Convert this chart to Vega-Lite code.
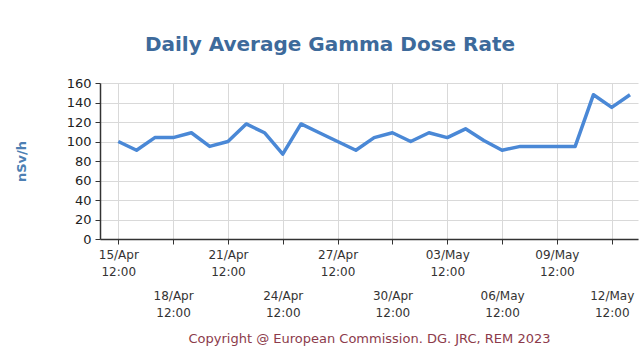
{
  "$schema": "https://vega.github.io/schema/vega-lite/v6.json",
  "width": 538,
  "height": 156,
  "autosize": "none",
  "padding": {"left": 100, "top": 83, "right": 2, "bottom": 116},
  "background": "white",
  "config": {
    "font": "DejaVu Sans",
    "view": {"stroke": null}
  },
  "title": {
    "text": "Daily Average Gamma Dose Rate",
    "fontSize": 20,
    "fontWeight": "bold",
    "color": "#3d6a9b",
    "anchor": "middle",
    "dx": -39,
    "offset": 22
  },
  "data": {
    "values": [
      {"date": "2023-04-15T12:00:00Z", "rate": 100},
      {"date": "2023-04-16T12:00:00Z", "rate": 91},
      {"date": "2023-04-17T12:00:00Z", "rate": 104},
      {"date": "2023-04-18T12:00:00Z", "rate": 104},
      {"date": "2023-04-19T12:00:00Z", "rate": 109},
      {"date": "2023-04-20T12:00:00Z", "rate": 95},
      {"date": "2023-04-21T12:00:00Z", "rate": 100},
      {"date": "2023-04-22T12:00:00Z", "rate": 118},
      {"date": "2023-04-23T12:00:00Z", "rate": 109},
      {"date": "2023-04-24T12:00:00Z", "rate": 87},
      {"date": "2023-04-25T12:00:00Z", "rate": 118},
      {"date": "2023-04-26T12:00:00Z", "rate": 109},
      {"date": "2023-04-27T12:00:00Z", "rate": 100},
      {"date": "2023-04-28T12:00:00Z", "rate": 91},
      {"date": "2023-04-29T12:00:00Z", "rate": 104},
      {"date": "2023-04-30T12:00:00Z", "rate": 109},
      {"date": "2023-05-01T12:00:00Z", "rate": 100},
      {"date": "2023-05-02T12:00:00Z", "rate": 109},
      {"date": "2023-05-03T12:00:00Z", "rate": 104},
      {"date": "2023-05-04T12:00:00Z", "rate": 113},
      {"date": "2023-05-05T12:00:00Z", "rate": 101},
      {"date": "2023-05-06T12:00:00Z", "rate": 91},
      {"date": "2023-05-07T12:00:00Z", "rate": 95},
      {"date": "2023-05-08T12:00:00Z", "rate": 95},
      {"date": "2023-05-09T12:00:00Z", "rate": 95},
      {"date": "2023-05-10T12:00:00Z", "rate": 95},
      {"date": "2023-05-11T12:00:00Z", "rate": 148},
      {"date": "2023-05-12T12:00:00Z", "rate": 135},
      {"date": "2023-05-13T12:00:00Z", "rate": 148}
    ]
  },
  "mark": {"type": "line", "color": "#4a88d6", "strokeWidth": 3.5, "strokeJoin": "round", "clip": true},
  "encoding": {
    "x": {
      "field": "date",
      "type": "temporal",
      "scale": {
        "type": "utc",
        "domain": [
          {"year": 2023, "month": 4, "date": 14, "hours": 12, "utc": true},
          {"year": 2023, "month": 5, "date": 13, "hours": 22, "minutes": 30, "utc": true}
        ]
      },
      "axis": {
        "values": [
          {"year": 2023, "month": 4, "date": 15, "hours": 12, "utc": true},
          {"year": 2023, "month": 4, "date": 18, "hours": 12, "utc": true},
          {"year": 2023, "month": 4, "date": 21, "hours": 12, "utc": true},
          {"year": 2023, "month": 4, "date": 24, "hours": 12, "utc": true},
          {"year": 2023, "month": 4, "date": 27, "hours": 12, "utc": true},
          {"year": 2023, "month": 4, "date": 30, "hours": 12, "utc": true},
          {"year": 2023, "month": 5, "date": 3, "hours": 12, "utc": true},
          {"year": 2023, "month": 5, "date": 6, "hours": 12, "utc": true},
          {"year": 2023, "month": 5, "date": 9, "hours": 12, "utc": true},
          {"year": 2023, "month": 5, "date": 12, "hours": 12, "utc": true}
        ],
        "labelExpr": "[utcFormat(datum.value, '%d/%b'), utcFormat(datum.value, '%H:%M')]",
        "labelPadding": {
          "condition": {"test": "round((datum.value - utc(2023,3,15,12)) / 86400000) % 6 == 3", "value": 46},
          "value": 5
        },
        "labelFontSize": 12,
        "labelColor": "#333333",
        "labelLineHeight": 17,
        "labelOverlap": false,
        "labelFlush": false,
        "labelAngle": 0,
        "labelAlign": "center",
        "labelBaseline": "top",
        "tickSize": 5,
        "tickColor": "#333333",
        "domainColor": "#333333",
        "domainWidth": 1.5,
        "grid": true,
        "gridColor": "#d9d9d9",
        "title": "Copyright @ European Commission. DG. JRC, REM 2023",
        "titleColor": "#8c3b4b",
        "titleFontSize": 13,
        "titleFontWeight": "normal",
        "titlePadding": 14
      }
    },
    "y": {
      "field": "rate",
      "type": "quantitative",
      "scale": {"domain": [0, 160]},
      "axis": {
        "values": [0, 20, 40, 60, 80, 100, 120, 140, 160],
        "title": "nSv/h",
        "titleColor": "#4d7fb3",
        "titleFontSize": 13,
        "titleFontWeight": "bold",
        "titlePadding": 38,
        "labelFontSize": 13,
        "labelColor": "#222222",
        "labelPadding": 4,
        "tickSize": 5,
        "tickColor": "#333333",
        "domainColor": "#333333",
        "domainWidth": 1.5,
        "gridColor": "#d9d9d9"
      }
    }
  }
}
